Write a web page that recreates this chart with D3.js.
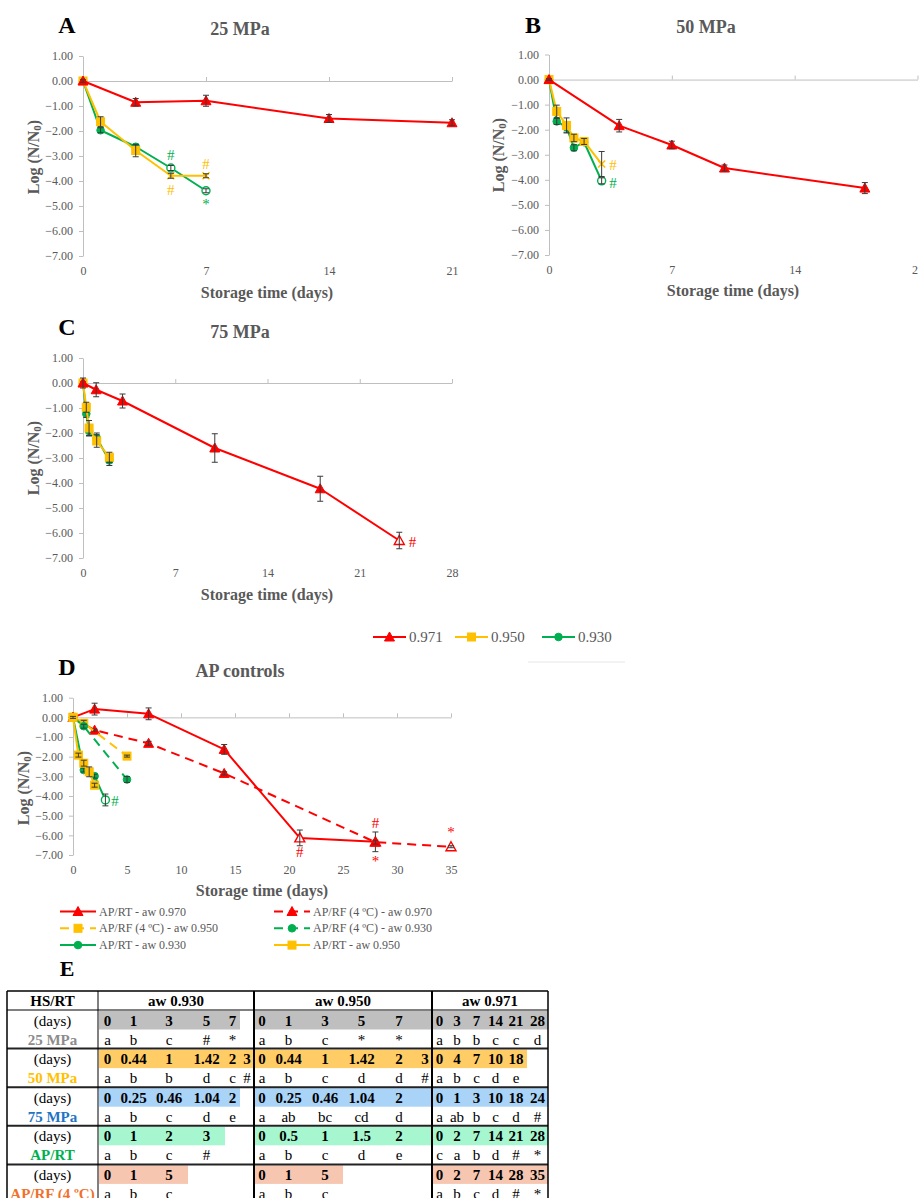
<!DOCTYPE html>
<html><head><meta charset="utf-8">
<script src="https://cdn.jsdelivr.net/npm/d3@7"></script>
<style>
body{margin:0;background:#fff}
svg{display:block}
text{font-family:"Liberation Serif","Times New Roman",serif}
</style>
</head><body>
<script>
// ---------------- DATA ----------------
const yTicks = [1,0,-1,-2,-3,-4,-5,-6,-7];
const yTickLabels = ["1.00","0.00","−1.00","−2.00","−3.00","−4.00","−5.00","−6.00","−7.00"];
const xTicksABC = [0,7,14,21];
const xTicksC = [0,7,14,21,28];
const xTicksD = [0,5,10,15,20,25,30,35];

// Panel A (25 MPa)
const A_red_t=[0,3,7,14,21], A_red_v=[0,-0.85,-0.79,-1.50,-1.67], A_red_e=[0.05,0.15,0.22,0.16,0.12], A_red_m=["f","f","f","f","f"];
const A_yel_t=[0,1,3,5,7], A_yel_v=[0,-1.63,-2.78,-3.79,-3.79], A_yel_e=[0.03,0.2,0.25,0.1,0.08], A_yel_m=["f","f","f","x","x"];
const A_grn_t=[0,1,3,5,7], A_grn_v=[0,-1.97,-2.63,-3.48,-4.39], A_grn_e=[0.03,0.1,0.08,0.1,0.08], A_grn_m=["f","f","f","o","o"];
const A_notes=[["#",5,-2.97,"grn"],["#",7,-3.33,"yel"],["#",5,-4.36,"yel"],["*",7,-4.9,"grn"]];

// Panel B (50 MPa)
const B_red_t=[0,4,7,10,18], B_red_v=[0,-1.84,-2.61,-3.53,-4.33], B_red_e=[0.03,0.25,0.15,0.12,0.22], B_red_m=["f","f","f","f","f"];
const B_yel_t=[0,0.44,1,1.42,2,3], B_yel_v=[0,-1.27,-1.83,-2.33,-2.47,-3.37], B_yel_e=[0.03,0.25,0.3,0.15,0.12,0.5], B_yel_m=["f","f","f","f","f","x"];
const B_grn_t=[0,0.44,1,1.42,2,3], B_grn_v=[0,-1.67,-1.9,-2.72,-2.5,-4.04], B_grn_e=[0.03,0.12,0.2,0.12,0.1,0.12], B_grn_m=["f","f","f","f","f","o"];
const B_notes=[["#",3.65,-3.4,"yel"],["#",3.65,-4.12,"grn"]];

// Panel C (75 MPa)
const C_red_t=[0,1,3,10,18,24], C_red_v=[0,-0.27,-0.72,-2.6,-4.23,-6.3], C_red_e=[0.2,0.28,0.28,0.57,0.5,0.33], C_red_m=["f","f","f","f","f","o"];
const C_yel_t=[0,0.25,0.46,1.04,2], C_yel_v=[0,-0.97,-1.8,-2.32,-2.97], C_yel_e=[0.05,0.2,0.3,0.25,0.2], C_yel_m=["f","f","f","f","f"];
const C_grn_t=[0,0.25,0.46,1.04,2], C_grn_v=[0,-1.23,-1.92,-2.2,-3.1], C_grn_e=[0.05,0.15,0.2,0.2,0.2], C_grn_m=["f","f","f","f","f"];
const C_notes=[["#",25.0,-6.35,"red"]];

// Panel D (AP controls)
const D_rt970_t=[0,2,7,14,21,28], D_rt970_v=[0,0.42,0.18,-1.63,-6.13,-6.33], D_rt970_e=[0.2,0.3,0.3,0.25,0.4,0.5], D_rt970_m=["f","f","f","f","o","o"];
const D_rf970_t=[0,2,7,14,28,35], D_rf970_v=[0,-0.65,-1.32,-2.85,-6.35,-6.58], D_rf970_e=[0.05,0.05,0.1,0.08,0.1,0.05], D_rf970_m=["f","f","f","f","f","o"];
const D_rf950_t=[0,1,5], D_rf950_v=[0,-0.3,-1.97], D_rf950_e=[0.05,0.15,0.05], D_rf950_m=["f","f","f"];
const D_rf930_t=[0,1,5], D_rf930_v=[0,-0.45,-3.16], D_rf930_e=[0.05,0.1,0.15], D_rf930_m=["f","f","f"];
const D_rt930_t=[0,1,2,3], D_rt930_v=[0,-2.68,-2.99,-4.2], D_rt930_e=[0.05,0.1,0.1,0.3], D_rt930_m=["f","f","f","o"];
const D_rt950_t=[0,0.5,1,1.5,2], D_rt950_v=[0,-1.92,-2.33,-2.77,-3.45], D_rt950_e=[0.05,0.1,0.15,0.25,0.1], D_rt950_m=["f","f","f","f","f"];
const D_notes=[["#",28,-5.38,"red"],["#",21,-6.85,"red"],["*",28,-7.3,"red"],["*",35,-5.83,"red"],["#",3.9,-4.24,"grn"]];

const legendABC=["0.971","0.950","0.930"];
const legendD=["AP/RT - aw 0.970","AP/RF (4 ºC) - aw 0.970","AP/RF (4 ºC) - aw 0.950","AP/RF (4 ºC) - aw 0.930","AP/RT - aw 0.930","AP/RT - aw 0.950"];

// Table E
const E_header=["HS/RT","aw 0.930","aw 0.950","aw 0.971"];
const E_rows=["25 MPa","50 MPa","75 MPa","AP/RT","AP/RF (4 ºC)"];
const E_days=[
 [["0","1","3","5","7"],["0","1","3","5","7"],["0","3","7","14","21","28"]],
 [["0","0.44","1","1.42","2","3"],["0","0.44","1","1.42","2","3"],["0","4","7","10","18"]],
 [["0","0.25","0.46","1.04","2"],["0","0.25","0.46","1.04","2"],["0","1","3","10","18","24"]],
 [["0","1","2","3"],["0","0.5","1","1.5","2"],["0","2","7","14","21","28"]],
 [["0","1","5"],["0","1","5"],["0","2","7","14","28","35"]]
];
const E_letters=[
 [["a","b","c","#","*"],["a","b","c","*","*"],["a","b","b","c","c","d"]],
 [["a","b","b","d","c","#"],["a","b","c","d","d","#"],["a","b","c","d","e"]],
 [["a","b","c","d","e"],["a","ab","bc","cd","d"],["a","ab","b","c","d","#"]],
 [["a","b","c","#"],["a","b","c","d","e"],["c","a","b","d","#","*"]],
 [["a","b","c"],["a","b","c"],["a","b","c","d","#","*"]]
];

// ---------------- STYLE ----------------
const FONT='"Liberation Serif","Times New Roman",serif';
const COL={red:"#ff0000",yel:"#ffc000",grn:"#00b050"};
const AX="#595959", GRID="#bfbfbf", ERR="#3a3a3a";

const svg=d3.select("body").append("svg").attr("width",919).attr("height",1198);

function zip(t,v,e,m){return t.map((d,i)=>({t:d,v:v[i],e:e[i],m:m[i]}));}

function drawMarker(g,shape,cx,cy,color,st){
  if(st==="x"){
    const s=3.5;
    g.append("path").attr("d",`M${cx-s},${cy-s}L${cx+s},${cy+s}M${cx-s},${cy+s}L${cx+s},${cy-s}`)
      .attr("stroke",color).attr("stroke-width",1.6).attr("fill","none");
    return;
  }
  const fill= st==="o" ? "#fff" : color;
  let el;
  if(shape==="tri"){
    el=g.append("path").attr("d",`M${cx},${cy-5}L${cx+5},${cy+4}L${cx-5},${cy+4}Z`);
  } else if(shape==="sq"){
    el=g.append("rect").attr("x",cx-4).attr("y",cy-4).attr("width",8).attr("height",8);
  } else {
    el=g.append("circle").attr("cx",cx).attr("cy",cy).attr("r",st==="o"?4:3.8);
  }
  el.attr("fill",fill).attr("stroke",color).attr("stroke-width",st==="o"?1.4:1);
}

function drawPanel(p){
  const x=d3.scaleLinear().domain(p.xd).range(p.xr);
  const y=d3.scaleLinear().domain([-7,1]).range(p.yr);
  const g=svg.append("g");
  // y axis
  const ya=g.append("g").attr("transform",`translate(${p.xr[0]},0)`)
    .call(d3.axisLeft(y).tickValues(yTicks).tickFormat((d,i)=>yTickLabels[i]).tickSize(4).tickSizeOuter(0).tickPadding(6));
  ya.attr("font-family",FONT).attr("font-size",12);
  ya.select(".domain").attr("stroke",GRID);
  ya.selectAll(".tick line").attr("stroke",GRID);
  ya.selectAll(".tick text").attr("fill",AX);
  // x axis line at 0
  const xa=g.append("g").attr("transform",`translate(0,${y(0)})`)
    .call(d3.axisTop(x).tickValues(p.xt).tickSize(4).tickSizeOuter(0).tickFormat(""));
  xa.select(".domain").attr("stroke",GRID);
  xa.selectAll(".tick line").attr("stroke",GRID);
  // x labels low
  const xb=g.append("g").attr("transform",`translate(0,${y(-7)})`)
    .call(d3.axisBottom(x).tickValues(p.xt).tickSize(0).tickPadding(10));
  xb.attr("font-family",FONT).attr("font-size",12);
  xb.select(".domain").remove();
  xb.selectAll(".tick text").attr("fill",AX);

  // series
  p.series.forEach(s=>{
    const data=zip(s.t,s.v,s.e,s.m);
    const line=d3.line().x(d=>x(d.t)).y(d=>y(d.v));
    g.append("path").datum(data).attr("d",line).attr("fill","none")
      .attr("stroke",s.color).attr("stroke-width",2).attr("stroke-dasharray",s.dash||null)
      .attr("stroke-linejoin","round");
    const mg=g.append("g");
    data.forEach(d=>drawMarker(mg,s.shape,x(d.t),y(d.v),s.color,d.m));
    const eg=g.append("g").attr("stroke",ERR).attr("stroke-width",1).attr("fill","none");
    data.forEach(d=>{
      if(!d.e) return;
      const cx=x(d.t), y1=y(d.v-d.e), y2=y(d.v+d.e);
      eg.append("path").attr("d",`M${cx},${y1}L${cx},${y2}M${cx-3},${y1}L${cx+3},${y1}M${cx-3},${y2}L${cx+3},${y2}`);
    });
  });
  // notes
  p.notes.forEach(n=>{
    g.append("text").attr("x",x(n[1])).attr("y",y(n[2])).attr("text-anchor","middle")
      .attr("dominant-baseline","central").attr("fill",COL[n[3]]).attr("font-size",15).text(n[0]);
  });
  // titles
  svg.append("text").attr("x",p.title[1]).attr("y",p.title[2]).attr("text-anchor","middle")
    .attr("dominant-baseline","central").attr("font-weight","bold").attr("font-size",18).attr("fill",AX).text(p.title[0]);
  svg.append("text").attr("x",p.letter[1]).attr("y",p.letter[2]).attr("text-anchor","middle")
    .attr("dominant-baseline","central").attr("font-weight","bold").attr("font-size",24).attr("fill","#000").text(p.letter[0]);
  svg.append("text").attr("x",p.xlab[0]).attr("y",p.xlab[1]).attr("text-anchor","middle")
    .attr("dominant-baseline","central").attr("font-weight","bold").attr("font-size",16).attr("fill",AX).text("Storage time (days)");
  const yl=svg.append("text").attr("transform",`translate(${p.ylab[0]},${p.ylab[1]}) rotate(-90)`)
    .attr("text-anchor","middle").attr("dominant-baseline","central").attr("font-weight","bold").attr("font-size",16).attr("fill",AX);
  yl.append("tspan").text("Log (N/N");
  yl.append("tspan").attr("dy",4).attr("font-size",11).text("0");
  yl.append("tspan").attr("dy",-4).text(")");
}

drawPanel({xd:[0,21],xr:[83,452],yr:[256,56],xt:xTicksABC,
  series:[
    {t:A_grn_t,v:A_grn_v,e:A_grn_e,m:A_grn_m,color:COL.grn,shape:"circ"},
    {t:A_yel_t,v:A_yel_v,e:A_yel_e,m:A_yel_m,color:COL.yel,shape:"sq"},
    {t:A_red_t,v:A_red_v,e:A_red_e,m:A_red_m,color:COL.red,shape:"tri"}],
  notes:A_notes,title:["25 MPa",240,29],letter:["A",67,25],xlab:[267,292],ylab:[33,157]});

drawPanel({xd:[0,21],xr:[549,917.5],yr:[255,54.5],xt:xTicksABC,
  series:[
    {t:B_grn_t,v:B_grn_v,e:B_grn_e,m:B_grn_m,color:COL.grn,shape:"circ"},
    {t:B_yel_t,v:B_yel_v,e:B_yel_e,m:B_yel_m,color:COL.yel,shape:"sq"},
    {t:B_red_t,v:B_red_v,e:B_red_e,m:B_red_m,color:COL.red,shape:"tri"}],
  notes:B_notes,title:["50 MPa",706,27],letter:["B",533,25],xlab:[733,290],ylab:[498,155]});

drawPanel({xd:[0,28],xr:[83,452],yr:[558,358],xt:xTicksC,
  series:[
    {t:C_grn_t,v:C_grn_v,e:C_grn_e,m:C_grn_m,color:COL.grn,shape:"circ"},
    {t:C_yel_t,v:C_yel_v,e:C_yel_e,m:C_yel_m,color:COL.yel,shape:"sq"},
    {t:C_red_t,v:C_red_v,e:C_red_e,m:C_red_m,color:COL.red,shape:"tri"}],
  notes:C_notes,title:["75 MPa",240,332],letter:["C",67,327],xlab:[267,594],ylab:[33,458]});

drawPanel({xd:[0,35],xr:[73,451],yr:[855,697.7],xt:xTicksD,
  series:[
    {t:D_rt970_t,v:D_rt970_v,e:D_rt970_e,m:D_rt970_m,color:COL.red,shape:"tri"},
    {t:D_rf970_t,v:D_rf970_v,e:D_rf970_e,m:D_rf970_m,color:COL.red,shape:"tri",dash:"9,6"},
    {t:D_rf950_t,v:D_rf950_v,e:D_rf950_e,m:D_rf950_m,color:COL.yel,shape:"sq",dash:"9,6"},
    {t:D_rf930_t,v:D_rf930_v,e:D_rf930_e,m:D_rf930_m,color:COL.grn,shape:"circ",dash:"9,6"},
    {t:D_rt930_t,v:D_rt930_v,e:D_rt930_e,m:D_rt930_m,color:COL.grn,shape:"circ"},
    {t:D_rt950_t,v:D_rt950_v,e:D_rt950_e,m:D_rt950_m,color:COL.yel,shape:"sq"}],
  notes:D_notes,title:["AP controls",240,671],letter:["D",67,667],xlab:[262,890],ylab:[23,788]});

// Legend A-C
(function(){
  const g=svg.append("g");
  const items=[{c:COL.red,s:"tri",x:373},{c:COL.yel,s:"sq",x:455},{c:COL.grn,s:"circ",x:542}];
  items.forEach((it,i)=>{
    g.append("line").attr("x1",it.x).attr("x2",it.x+33).attr("y1",637).attr("y2",637).attr("stroke",it.c).attr("stroke-width",2);
    drawMarker(g,it.s,it.x+16.5,637,it.c,"f");
    g.append("text").attr("x",it.x+36).attr("y",637).attr("dominant-baseline","central")
      .attr("font-size",15).attr("fill",AX).text(legendABC[i]);
  });
  g.append("line").attr("x1",528).attr("x2",625).attr("y1",662).attr("y2",662).attr("stroke","#e6e6e6").attr("stroke-width",1);
})();

// Legend D
(function(){
  const g=svg.append("g");
  const sty=[{c:COL.red,s:"tri"},{c:COL.red,s:"tri",d:"9,6"},{c:COL.yel,s:"sq",d:"9,6"},{c:COL.grn,s:"circ",d:"9,6"},{c:COL.grn,s:"circ"},{c:COL.yel,s:"sq"}];
  legendD.forEach((lab,i)=>{
    const col=i%2, row=Math.floor(i/2);
    const x0= col===0?60:274, yy=911.5+row*16.8;
    const st=sty[i];
    g.append("line").attr("x1",x0).attr("x2",x0+36).attr("y1",yy).attr("y2",yy).attr("stroke",st.c)
      .attr("stroke-width",2).attr("stroke-dasharray",st.d||null);
    drawMarker(g,st.s,x0+18,yy,st.c,"f");
    g.append("text").attr("x",x0+39).attr("y",yy).attr("dominant-baseline","central")
      .attr("font-size",12).attr("fill",AX).text(lab);
  });
})();

// Table E
(function(){
  const g=svg.append("g");
  svg.append("text").attr("x",67).attr("y",968).attr("text-anchor","middle").attr("dominant-baseline","central")
    .attr("font-weight","bold").attr("font-size",22).attr("fill","#000").text("E");
  const bounds=[[98,117,150,188,225,240,254],[254,270,307,343,380,418,432],[432,447,467,486,505,527,548]];
  const fillCols=["#bfbfbf","#ffcc66","#a9d3f7","#a6f7cf","#f6c6b0"];
  const labCols=["#8c8c8c","#ffc000","#1f74c4","#00b050","#f0702c"];
  const fillN=[[5,6,6],[6,6,5],[5,6,6],[4,6,6],[3,3,6]];
  const top=991, hdrB=1010, blk=38.6;
  // header
  g.append("text").attr("x",52.5).attr("y",1000.5).attr("text-anchor","middle").attr("dominant-baseline","central")
    .attr("font-weight","bold").attr("font-size",15).text(E_header[0]);
  bounds.forEach((b,gi)=>{
    g.append("text").attr("x",(b[0]+b[6])/2).attr("y",1000.5).attr("text-anchor","middle").attr("dominant-baseline","central")
      .attr("font-weight","bold").attr("font-size",15).text(E_header[gi+1]);
  });
  E_rows.forEach((r,ri)=>{
    const y0=hdrB+ri*blk;
    bounds.forEach((b,gi)=>{
      const n=fillN[ri][gi];
      g.append("rect").attr("x",b[0]+1).attr("y",y0+1).attr("width",b[n]-b[0]-1).attr("height",18.5).attr("fill",fillCols[ri]);
      E_days[ri][gi].forEach((t,k)=>{
        g.append("text").attr("x",(b[k]+b[k+1])/2).attr("y",y0+10.5).attr("text-anchor","middle").attr("dominant-baseline","central")
          .attr("font-weight","bold").attr("font-size",15).text(t);
      });
      E_letters[ri][gi].forEach((t,k)=>{
        g.append("text").attr("x",(b[k]+b[k+1])/2).attr("y",y0+29.5).attr("text-anchor","middle").attr("dominant-baseline","central")
          .attr("font-size",15).text(t);
      });
    });
    g.append("text").attr("x",52.5).attr("y",y0+10.5).attr("text-anchor","middle").attr("dominant-baseline","central")
      .attr("font-size",15).text("(days)");
    g.append("text").attr("x",52.5).attr("y",y0+29.5).attr("text-anchor","middle").attr("dominant-baseline","central")
      .attr("font-weight","bold").attr("font-size",15).attr("fill",labCols[ri]).text(r);
  });
  const bottom=1210;
  // lines
  g.append("line").attr("x1",7).attr("x2",548).attr("y1",top).attr("y2",top).attr("stroke","#000").attr("stroke-width",1.5);
  g.append("line").attr("x1",7).attr("x2",548).attr("y1",hdrB).attr("y2",hdrB).attr("stroke","#000").attr("stroke-width",1);
  for(let i=1;i<E_rows.length;i++){
    const yy=hdrB+i*blk;
    g.append("line").attr("x1",7).attr("x2",548).attr("y1",yy).attr("y2",yy).attr("stroke","#222").attr("stroke-width",2);
  }
  [[7,1.5],[98,1],[254,2],[432,2],[548,1.5]].forEach(v=>{
    g.append("line").attr("x1",v[0]).attr("x2",v[0]).attr("y1",top).attr("y2",bottom).attr("stroke","#000").attr("stroke-width",v[1]);
  });
})();
</script>
</body></html>
